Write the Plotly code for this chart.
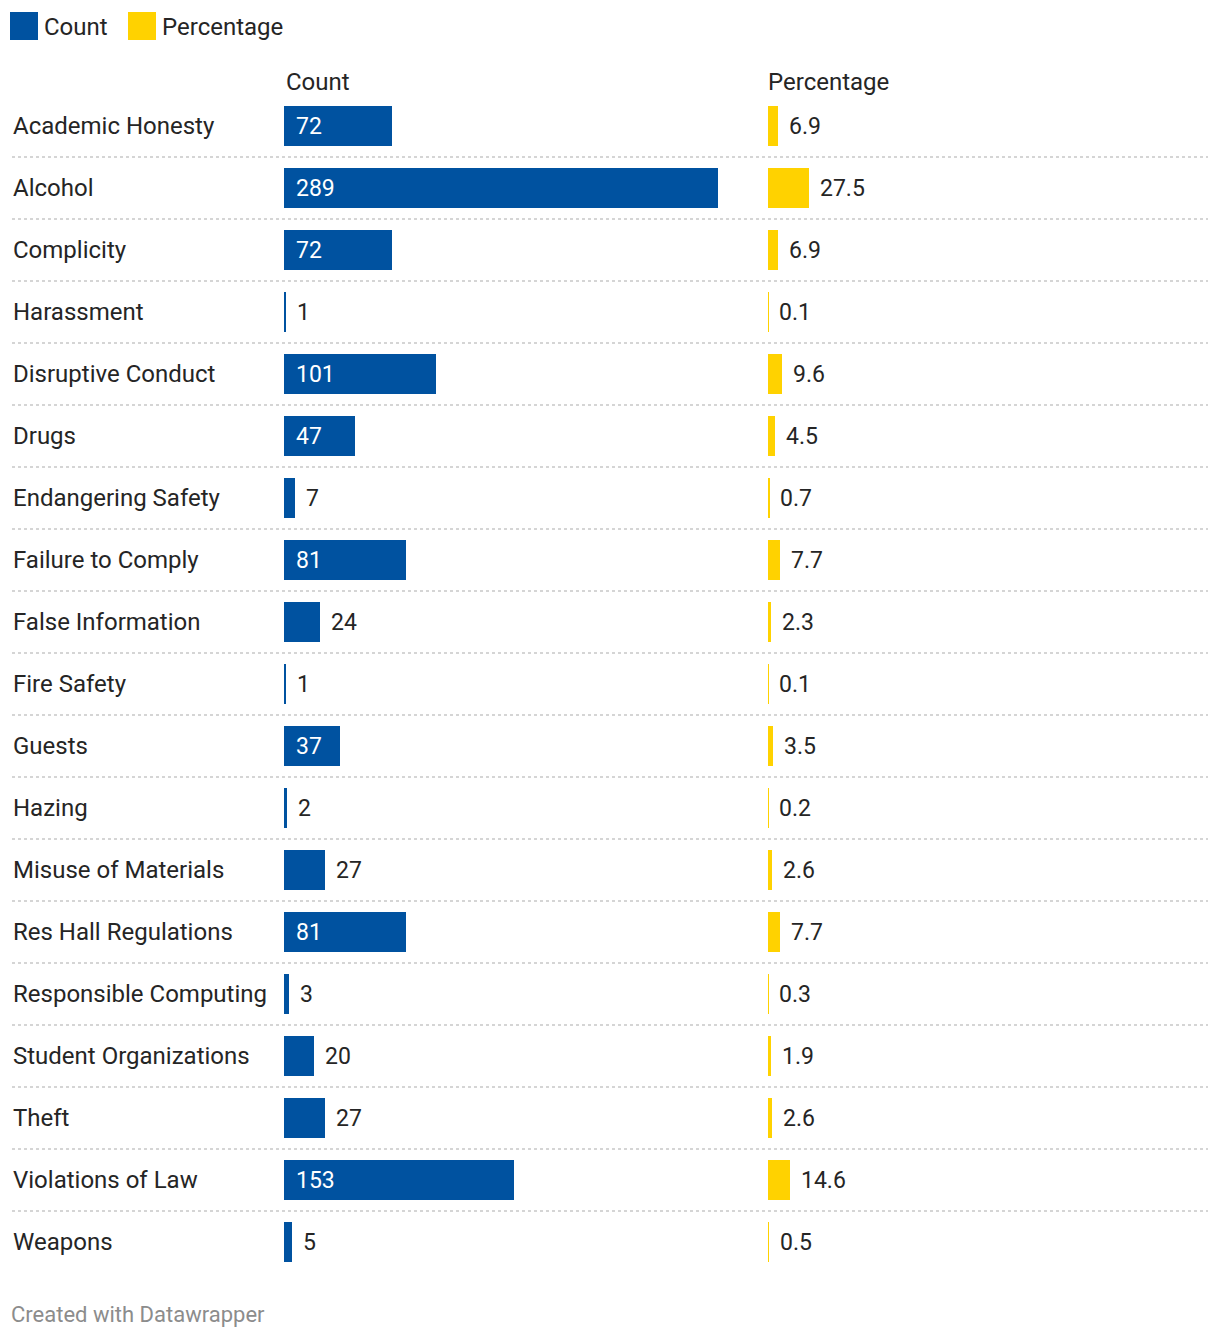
import plotly.graph_objects as go

categories = ["Academic Honesty", "Alcohol", "Complicity", "Harassment", "Disruptive Conduct",
              "Drugs", "Endangering Safety", "Failure to Comply", "False Information", "Fire Safety",
              "Guests", "Hazing", "Misuse of Materials", "Res Hall Regulations",
              "Responsible Computing", "Student Organizations", "Theft", "Violations of Law", "Weapons"]
count = [72, 289, 72, 1, 101, 47, 7, 81, 24, 1, 37, 2, 27, 81, 3, 20, 27, 153, 5]
percentage = [6.9, 27.5, 6.9, 0.1, 9.6, 4.5, 0.7, 7.7, 2.3, 0.1, 3.5, 0.2, 2.6, 7.7, 0.3, 1.9, 2.6, 14.6, 0.5]
count_labels = [str(v) for v in count]
pct_labels = [f"{v:.1f}" for v in percentage]

BLUE = "#0052a0"
YELLOW = "#ffd200"
TEXT = "#252525"
FONT = "Roboto"
OFF = 8  # page body margin
W, H = 1220 - OFF, 1340 - OFF
SCALE = 1.502  # px per unit
ROW0, ROWH = 126 - OFF, 62
FS = 23

def px(v):
    return (v - OFF) / W

def py(v):
    return 1 - (v - OFF) / H

ypos = list(range(len(categories)))
y_top = -ROW0 / ROWH
y_bot = (H - ROW0) / ROWH

c_x0, c_x1 = 284, 740
p_x0, p_x1 = 768, 1208

fig = go.Figure()
fig.add_trace(go.Bar(x=count, y=ypos, orientation="h", marker=dict(color=BLUE, line=dict(width=0)),
                     width=40 / ROWH, xaxis="x", yaxis="y", name="Count", hoverinfo="x+text",
                     hovertext=categories))
fig.add_trace(go.Bar(x=percentage, y=ypos, orientation="h", marker=dict(color=YELLOW, line=dict(width=0)),
                     width=40 / ROWH, xaxis="x2", yaxis="y", name="Percentage", hoverinfo="x+text",
                     hovertext=categories))

annotations = []
shapes = []

def char_w(s):
    return sum(6.5 if ch == "." else 12.8 for ch in s)

for i, cat in enumerate(categories):
    annotations.append(dict(x=px(11), xref="paper", y=i, yref="y", text=cat, showarrow=False,
                            xanchor="left", yanchor="middle",
                            font=dict(family=FONT, size=24, color=TEXT)))
    lab = count_labels[i]
    if count[i] * SCALE > char_w(lab) + 24:
        annotations.append(dict(x=0, xref="x", y=i, yref="y", text=lab, showarrow=False,
                                xanchor="left", yanchor="middle", xshift=10,
                                font=dict(family=FONT, size=FS, color="white")))
    else:
        annotations.append(dict(x=count[i], xref="x", y=i, yref="y", text=lab, showarrow=False,
                                xanchor="left", yanchor="middle", xshift=9,
                                font=dict(family=FONT, size=FS, color=TEXT)))
    lab = pct_labels[i]
    if percentage[i] * SCALE > char_w(lab) + 24:
        annotations.append(dict(x=0, xref="x2", y=i, yref="y", text=lab, showarrow=False,
                                xanchor="left", yanchor="middle", xshift=10,
                                font=dict(family=FONT, size=FS, color="white")))
    else:
        annotations.append(dict(x=percentage[i], xref="x2", y=i, yref="y", text=lab, showarrow=False,
                                xanchor="left", yanchor="middle", xshift=9,
                                font=dict(family=FONT, size=FS, color=TEXT)))
    if i < len(categories) - 1:
        shapes.append(dict(type="line", xref="paper", yref="y", x0=px(12), x1=px(1208),
                           y0=i + 0.5, y1=i + 0.5,
                           line=dict(color="#c8c8c8", width=1.5, dash="dot")))

# column headers
annotations.append(dict(x=px(284), xref="paper", y=py(82), yref="paper", text="Count",
                        showarrow=False, xanchor="left", yanchor="middle",
                        font=dict(family=FONT, size=24, color=TEXT)))
annotations.append(dict(x=px(766), xref="paper", y=py(82), yref="paper", text="Percentage",
                        showarrow=False, xanchor="left", yanchor="middle",
                        font=dict(family=FONT, size=24, color=TEXT)))
# legend
shapes.append(dict(type="rect", xref="paper", yref="paper", x0=px(10), x1=px(38),
                   y0=py(40), y1=py(12), fillcolor=BLUE, line=dict(width=0)))
shapes.append(dict(type="rect", xref="paper", yref="paper", x0=px(128), x1=px(156),
                   y0=py(40), y1=py(12), fillcolor=YELLOW, line=dict(width=0)))
annotations.append(dict(x=px(42), xref="paper", y=py(27), yref="paper", text="Count",
                        showarrow=False, xanchor="left", yanchor="middle",
                        font=dict(family=FONT, size=24, color=TEXT)))
annotations.append(dict(x=px(160), xref="paper", y=py(27), yref="paper", text="Percentage",
                        showarrow=False, xanchor="left", yanchor="middle",
                        font=dict(family=FONT, size=24, color=TEXT)))
# footer
annotations.append(dict(x=px(9), xref="paper", y=py(1314), yref="paper",
                        text="Created with Datawrapper", showarrow=False, xanchor="left",
                        yanchor="middle", font=dict(family=FONT, size=22, color="#8c8c8c")))

fig.update_layout(
    width=W, height=H, margin=dict(l=0, r=0, t=0, b=0),
    paper_bgcolor="white", plot_bgcolor="white", showlegend=False, bargap=0,
    xaxis=dict(domain=[px(c_x0), px(c_x1)], range=[0, (c_x1 - c_x0) / SCALE], visible=False, fixedrange=True),
    xaxis2=dict(domain=[px(p_x0), px(p_x1)], range=[0, (p_x1 - p_x0) / SCALE], visible=False, fixedrange=True),
    yaxis=dict(domain=[0, 1], range=[y_bot, y_top], visible=False, fixedrange=True),
    annotations=annotations, shapes=shapes,
)

fig.write_html("out.html")
